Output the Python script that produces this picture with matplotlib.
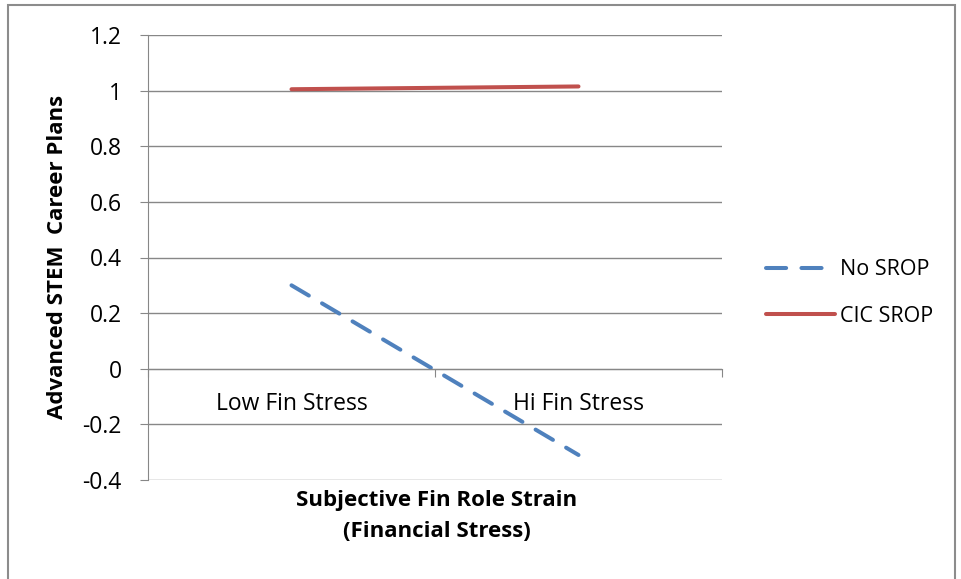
import matplotlib.pyplot as plt
from matplotlib.patches import Rectangle

categories = ['Low Fin Stress', 'Hi Fin Stress']
no_srop = [0.30, -0.31]
cic_srop = [1.005, 1.015]
yticks = [-0.4, -0.2, 0, 0.2, 0.4, 0.6, 0.8, 1, 1.2]
ytick_labels = ['-0.4', '-0.2', '0', '0.2', '0.4', '0.6', '0.8', '1', '1.2']

plt.rcParams['font.family'] = ['Open Sans', 'DejaVu Sans']
grid_col = '#878787'

fig = plt.figure(figsize=(9.62, 5.79), dpi=100)
ax = fig.add_axes([148/962, 1 - 480/579, (722 - 148)/962, (480 - 35)/579])

x = list(range(len(categories)))
ax.plot(x, no_srop, color='#4F81BD', lw=2.9, dashes=(5, 3.8),
        dash_capstyle='round', label='No SROP')
ax.plot(x, cic_srop, color='#C0504D', lw=2.9, solid_capstyle='round',
        label='CIC SROP')

ax.set_xlim(-0.5, 1.5)
ax.set_ylim(-0.4, 1.2)
ax.set_yticks(yticks)
ax.set_yticklabels(ytick_labels, fontsize=16.5)
ax.yaxis.grid(True, color=grid_col, lw=1)
ax.tick_params(axis='y', length=6, color=grid_col, pad=13)

# category axis crosses at 0
ax.spines['bottom'].set_position(('data', 0))
for s in ['top', 'right']:
    ax.spines[s].set_visible(False)
ax.spines['left'].set_color(grid_col)
ax.spines['bottom'].set_color(grid_col)
ax.set_xticks([-0.5, 0.5, 1.5])
ax.set_xticklabels(['', '', ''])
ax.tick_params(axis='x', which='major', length=6, color=grid_col, direction='out')
ax.set_xticks(x, minor=True)
ax.set_xticklabels(categories, minor=True, fontsize=16.5)
ax.tick_params(axis='x', which='minor', length=0, pad=17)

ax.set_axisbelow(True)

fig.text(58/962, 1 - 257/579, 'Advanced STEM  Career Plans', rotation=90,
         ha='center', va='center', fontsize=16, fontweight='bold')
fig.text(437/962, 1 - 516/579, 'Subjective Fin Role Strain\n(Financial Stress)',
         ha='center', va='center', fontsize=16, fontweight='bold',
         linespacing=1.6)

fig.legend(loc='center left', bbox_to_anchor=(747/962, 1 - 293/579),
           frameon=False, fontsize=15.5, handlelength=3.2, labelspacing=1.2,
           handletextpad=0.2)

fig.patches.append(Rectangle((8/962, -0.02), (955 - 8)/962, 1 - 5/579 + 0.02,
                             transform=fig.transFigure, fill=False,
                             edgecolor='#8c8c8c', lw=1.5))

fig.savefig('out.png', dpi=100)
